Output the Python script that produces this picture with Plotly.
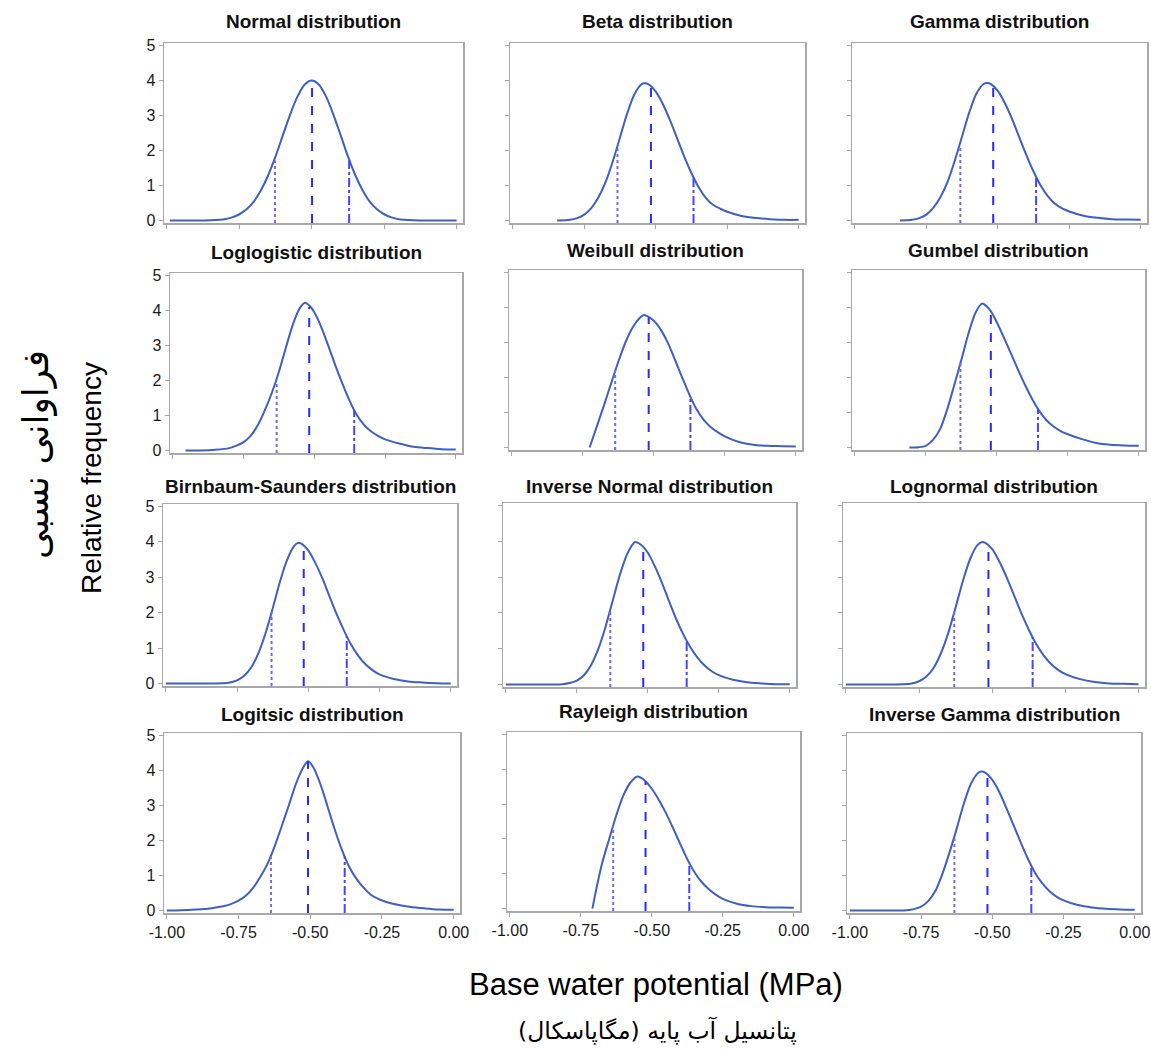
import plotly.graph_objects as go

# ---------------- data ----------------
titles = ["Normal distribution", "Beta distribution", "Gamma distribution",
          "Loglogistic distribution", "Weibull distribution", "Gumbel distribution",
          "Birnbaum-Saunders distribution", "Inverse Normal distribution", "Lognormal distribution",
          "Logitsic distribution", "Rayleigh distribution", "Inverse Gamma distribution"]

x_tick_vals = [-1.0, -0.75, -0.5, -0.25, 0.0]
x_tick_text = ["-1.00", "-0.75", "-0.50", "-0.25", "0.00"]
y_tick_vals = [0, 1, 2, 3, 4, 5]

normal_x = [-0.99, -0.90, -0.85, -0.80, -0.775, -0.75, -0.725, -0.70, -0.675, -0.65, -0.625, -0.60, -0.575, -0.55, -0.525, -0.50,
            -0.475, -0.45, -0.425, -0.40, -0.375, -0.35, -0.325, -0.30, -0.275, -0.25, -0.225, -0.20, -0.15, -0.10, 0.00]
normal_y = [0.00, 0.00, 0.01, 0.04, 0.09, 0.18, 0.32, 0.54, 0.87, 1.30, 1.83, 2.43, 3.02, 3.53, 3.88, 4.00,
            3.88, 3.53, 3.02, 2.43, 1.83, 1.30, 0.87, 0.54, 0.32, 0.18, 0.09, 0.04, 0.01, 0.00, 0.00]
normal_q = [-0.627, -0.499, -0.371]
normal_qh = [1.72, 4.00, 1.72]

beta_x = [-0.845, -0.80, -0.775, -0.75, -0.725, -0.70, -0.675, -0.65, -0.625, -0.60, -0.575, -0.55, -0.54, -0.525, -0.50,
          -0.475, -0.45, -0.425, -0.40, -0.375, -0.35, -0.325, -0.30, -0.275, -0.25, -0.20, -0.15, -0.10, -0.05, 0.00]
beta_y = [0.00, 0.02, 0.07, 0.17, 0.36, 0.67, 1.11, 1.70, 2.38, 3.06, 3.60, 3.89, 3.92, 3.89, 3.68,
          3.32, 2.86, 2.34, 1.82, 1.35, 0.95, 0.65, 0.45, 0.34, 0.25, 0.13, 0.07, 0.04, 0.02, 0.02]
beta_q = [-0.634, -0.517, -0.368]
beta_qh = [2.15, 3.84, 1.24]

gamma_x = [-0.842, -0.80, -0.775, -0.75, -0.725, -0.70, -0.675, -0.65, -0.625, -0.60, -0.575, -0.55, -0.536, -0.525, -0.50,
           -0.475, -0.45, -0.425, -0.40, -0.375, -0.35, -0.325, -0.30, -0.275, -0.25, -0.20, -0.15, -0.10, -0.05, 0.00]
gamma_y = [0.00, 0.02, 0.07, 0.17, 0.37, 0.68, 1.12, 1.72, 2.40, 3.08, 3.62, 3.90, 3.93, 3.90, 3.70,
           3.35, 2.90, 2.38, 1.87, 1.40, 1.00, 0.70, 0.48, 0.35, 0.26, 0.14, 0.08, 0.04, 0.03, 0.02]
gamma_q = [-0.631, -0.516, -0.366]
gamma_qh = [2.12, 3.83, 1.28]

loglog_x = [-0.955, -0.90, -0.85, -0.80, -0.775, -0.75, -0.725, -0.70, -0.675, -0.65, -0.625, -0.60, -0.575, -0.55, -0.533,
            -0.515, -0.50, -0.475, -0.45, -0.425, -0.40, -0.375, -0.35, -0.325, -0.30, -0.275, -0.25, -0.20, -0.15, -0.10, -0.05, 0.00]
loglog_y = [0.00, 0.00, 0.02, 0.07, 0.14, 0.24, 0.42, 0.72, 1.15, 1.65, 2.25, 2.95, 3.62, 4.08, 4.22,
            4.12, 3.95, 3.52, 2.98, 2.42, 1.90, 1.42, 1.02, 0.74, 0.55, 0.42, 0.32, 0.20, 0.11, 0.07, 0.04, 0.03]
loglog_q = [-0.633, -0.518, -0.359]
loglog_qh = [2.00, 4.10, 1.15]

weibull_x = [-0.726, -0.70, -0.675, -0.65, -0.625, -0.60, -0.575, -0.55, -0.537, -0.525, -0.50, -0.475, -0.45, -0.425,
             -0.40, -0.375, -0.35, -0.325, -0.30, -0.275, -0.25, -0.20, -0.15, -0.10, -0.05, 0.00]
weibull_y = [0.00, 0.62, 1.22, 1.84, 2.45, 3.00, 3.42, 3.70, 3.78, 3.76, 3.62, 3.36, 2.98, 2.50,
             2.00, 1.52, 1.10, 0.80, 0.59, 0.44, 0.32, 0.16, 0.08, 0.05, 0.04, 0.03]
weibull_q = [-0.636, -0.518, -0.371]
weibull_qh = [2.21, 3.72, 1.45]

gumbel_x = [-0.808, -0.775, -0.75, -0.725, -0.70, -0.675, -0.65, -0.625, -0.60, -0.575, -0.552, -0.535, -0.52, -0.50,
            -0.475, -0.45, -0.425, -0.40, -0.375, -0.35, -0.325, -0.30, -0.275, -0.25, -0.20, -0.15, -0.10, -0.05, 0.00]
gumbel_y = [0.00, 0.01, 0.05, 0.22, 0.52, 1.08, 1.78, 2.50, 3.25, 3.85, 4.11, 4.03, 3.88, 3.58,
            3.14, 2.68, 2.22, 1.78, 1.38, 1.04, 0.78, 0.60, 0.47, 0.38, 0.24, 0.13, 0.08, 0.06, 0.05]
gumbel_q = [-0.628, -0.521, -0.355]
gumbel_qh = [2.42, 3.87, 1.10]

birnbaum_x = [-1.00, -0.90, -0.80, -0.775, -0.75, -0.725, -0.70, -0.675, -0.65, -0.625, -0.60, -0.575, -0.55, -0.537, -0.525,
              -0.50, -0.475, -0.45, -0.425, -0.40, -0.375, -0.35, -0.325, -0.30, -0.275, -0.25, -0.20, -0.15, -0.10, -0.05, 0.00]
birnbaum_y = [0.00, 0.00, 0.01, 0.03, 0.09, 0.22, 0.46, 0.86, 1.42, 2.12, 2.86, 3.48, 3.88, 3.97, 3.95,
              3.76, 3.40, 2.96, 2.45, 1.95, 1.50, 1.10, 0.79, 0.55, 0.38, 0.26, 0.13, 0.06, 0.03, 0.01, 0.00]
birnbaum_q = [-0.629, -0.516, -0.365]
birnbaum_qh = [2.00, 3.88, 1.33]

invnormal_x = [-1.00, -0.90, -0.80, -0.775, -0.75, -0.725, -0.70, -0.675, -0.65, -0.625, -0.60, -0.575, -0.55, -0.545, -0.525,
               -0.50, -0.475, -0.45, -0.425, -0.40, -0.375, -0.35, -0.325, -0.30, -0.275, -0.25, -0.20, -0.15, -0.10, -0.05, 0.00]
invnormal_y = [0.00, 0.00, 0.01, 0.04, 0.11, 0.26, 0.54, 0.98, 1.58, 2.30, 3.02, 3.60, 3.95, 3.98, 3.91,
               3.68, 3.30, 2.84, 2.32, 1.83, 1.40, 1.04, 0.75, 0.53, 0.37, 0.26, 0.13, 0.06, 0.03, 0.01, 0.01]
invnormal_q = [-0.632, -0.516, -0.363]
invnormal_qh = [2.10, 3.83, 1.22]

lognormal_x = [-1.00, -0.90, -0.80, -0.775, -0.75, -0.725, -0.70, -0.675, -0.65, -0.625, -0.60, -0.575, -0.55, -0.534, -0.525,
               -0.50, -0.475, -0.45, -0.425, -0.40, -0.375, -0.35, -0.325, -0.30, -0.275, -0.25, -0.20, -0.15, -0.10, -0.05, 0.00]
lognormal_y = [0.00, 0.00, 0.01, 0.03, 0.09, 0.22, 0.47, 0.88, 1.45, 2.16, 2.90, 3.52, 3.90, 3.98, 3.96,
               3.78, 3.42, 2.98, 2.48, 1.98, 1.53, 1.13, 0.82, 0.58, 0.41, 0.29, 0.15, 0.07, 0.03, 0.02, 0.01]
lognormal_q = [-0.630, -0.513, -0.362]
lognormal_qh = [2.05, 3.88, 1.32]

logistic_x = [-1.00, -0.95, -0.90, -0.85, -0.80, -0.775, -0.75, -0.725, -0.70, -0.675, -0.65, -0.625, -0.60, -0.575, -0.55, -0.525, -0.508,
              -0.49, -0.465, -0.44, -0.415, -0.39, -0.365, -0.34, -0.315, -0.29, -0.265, -0.24, -0.20, -0.15, -0.10, -0.05, 0.00]
logistic_y = [0.00, 0.01, 0.03, 0.06, 0.13, 0.19, 0.28, 0.42, 0.64, 0.95, 1.32, 1.82, 2.40, 3.00, 3.62, 4.08, 4.26,
              4.10, 3.62, 2.98, 2.32, 1.74, 1.26, 0.92, 0.66, 0.46, 0.34, 0.26, 0.17, 0.10, 0.06, 0.03, 0.02]
logistic_q = [-0.637, -0.508, -0.380]
logistic_qh = [1.52, 4.26, 1.55]

rayleigh_x = [-0.709, -0.70, -0.675, -0.65, -0.625, -0.60, -0.575, -0.551, -0.525, -0.50, -0.475, -0.45, -0.425,
              -0.40, -0.375, -0.35, -0.325, -0.30, -0.275, -0.25, -0.20, -0.15, -0.10, -0.05, 0.00]
rayleigh_y = [0.00, 0.38, 1.30, 2.00, 2.68, 3.25, 3.62, 3.79, 3.68, 3.44, 3.12, 2.74, 2.31,
              1.86, 1.42, 1.05, 0.77, 0.56, 0.40, 0.28, 0.14, 0.07, 0.04, 0.03, 0.02]
rayleigh_q = [-0.636, -0.522, -0.368]
rayleigh_qh = [2.38, 3.65, 1.32]

invgamma_x = [-1.00, -0.90, -0.80, -0.775, -0.75, -0.725, -0.70, -0.675, -0.65, -0.625, -0.60, -0.575, -0.55, -0.538, -0.525,
              -0.50, -0.475, -0.45, -0.425, -0.40, -0.375, -0.35, -0.325, -0.30, -0.275, -0.25, -0.20, -0.15, -0.10, -0.05, 0.00]
invgamma_y = [0.00, 0.00, 0.01, 0.04, 0.11, 0.27, 0.56, 1.05, 1.66, 2.34, 3.05, 3.62, 3.93, 3.97, 3.94,
              3.73, 3.38, 2.92, 2.43, 1.94, 1.48, 1.08, 0.78, 0.56, 0.40, 0.29, 0.16, 0.09, 0.05, 0.03, 0.02]
invgamma_q = [-0.633, -0.517, -0.363]
invgamma_qh = [2.10, 3.90, 1.28]

series = [
    (normal_x, normal_y, normal_q, normal_qh),
    (beta_x, beta_y, beta_q, beta_qh),
    (gamma_x, gamma_y, gamma_q, gamma_qh),
    (loglog_x, loglog_y, loglog_q, loglog_qh),
    (weibull_x, weibull_y, weibull_q, weibull_qh),
    (gumbel_x, gumbel_y, gumbel_q, gumbel_qh),
    (birnbaum_x, birnbaum_y, birnbaum_q, birnbaum_qh),
    (invnormal_x, invnormal_y, invnormal_q, invnormal_qh),
    (lognormal_x, lognormal_y, lognormal_q, lognormal_qh),
    (logistic_x, logistic_y, logistic_q, logistic_qh),
    (rayleigh_x, rayleigh_y, rayleigh_q, rayleigh_qh),
    (invgamma_x, invgamma_y, invgamma_q, invgamma_qh),
]

# ---------------- layout geometry (pixels) ----------------
W, H = 1151, 1050
# (left, right, top, bottom) of each plot frame
frames = [
    (164, 463, 43, 223), (510, 805, 43, 223), (852, 1147, 43, 223),
    (170, 462, 273, 453), (509, 802, 270, 450), (852, 1145, 270, 450),
    (163, 457, 504, 686), (503, 796, 503, 687), (843, 1145, 503, 687),
    (164, 460, 733, 913), (507, 800, 732, 911), (847, 1141, 733, 913),
]
title_y = [22, 22, 22, 252, 250, 250, 486, 486, 486, 714, 711, 714]

X_RANGE = [-1.01, 0.022]
Y_RANGE = [-0.07, 5.07]

CURVE = "#3e60c2"
FRAME = "#a8a8a8"
FONT = "Liberation Sans, Arial, sans-serif"
q_styles = [("dot", "#6a6aff"), ("dash", "#2a2aff"), ("dashdot", "#4646ff")]

fig = go.Figure()
layout = dict(template="none", width=W, height=H, autosize=False,
              margin=dict(l=0, r=0, t=0, b=0, pad=0),
              plot_bgcolor="white", paper_bgcolor="white", showlegend=False)
annotations = []

for i, ((xs, ys, qs, qhs), (l, r, t, b)) in enumerate(zip(series, frames)):
    k = i + 1
    xa, ya = f"x{k}", f"y{k}"
    row, col = divmod(i, 3)
    fig.add_trace(go.Scatter(x=xs, y=ys, mode="lines", xaxis=xa, yaxis=ya,
                             line=dict(color=CURVE, width=2, shape="spline", smoothing=0.8),
                             hoverinfo="skip"))
    for q, h, (dash, colr) in zip(qs, qhs, q_styles):
        fig.add_trace(go.Scatter(x=[q, q], y=[Y_RANGE[0], h], mode="lines", xaxis=xa, yaxis=ya,
                                 line=dict(color=colr, width=2, dash=dash), hoverinfo="skip"))
    layout[f"xaxis{k}"] = dict(
        domain=[l / W, r / W], range=X_RANGE, anchor=ya, automargin=False,
        showline=True, mirror=True, linecolor=FRAME, linewidth=1.5,
        ticks="outside", ticklen=4, tickcolor=FRAME, tickwidth=1,
        tickvals=x_tick_vals, ticktext=x_tick_text,
        showticklabels=(row == 3), showgrid=False, zeroline=False,
        tickfont=dict(family=FONT, size=16, color="#1a1a1a"))
    layout[f"yaxis{k}"] = dict(
        domain=[1 - b / H, 1 - t / H], range=Y_RANGE, anchor=xa, automargin=False,
        showline=True, mirror=True, linecolor=FRAME, linewidth=1.5,
        ticks="outside", ticklen=4, tickcolor=FRAME, tickwidth=1,
        tickvals=y_tick_vals, showticklabels=(col == 0),
        showgrid=False, zeroline=False,
        tickfont=dict(family=FONT, size=16, color="#1a1a1a"))
    annotations.append(dict(text=f"<b>{titles[i]}</b>", xref="paper", yref="paper",
                            x=(l + r) / 2 / W, y=1 - title_y[i] / H, showarrow=False,
                            xanchor="center", yanchor="middle",
                            font=dict(family=FONT, size=19, color="#111111")))

annotations += [
    dict(text="Relative frequency", xref="paper", yref="paper", x=91 / W, y=1 - 478 / H,
         textangle=-90, showarrow=False, xanchor="center", yanchor="middle",
         font=dict(family=FONT, size=28, color="#000000")),
    dict(text="فراوانی نسبی", xref="paper", yref="paper", x=36 / W, y=1 - 455 / H,
         textangle=-90, showarrow=False, xanchor="center", yanchor="middle",
         font=dict(family="DejaVu Sans, Noto Sans", size=36, color="#000000")),
    dict(text="Base water potential (MPa)", xref="paper", yref="paper", x=656 / W, y=1 - 984 / H,
         showarrow=False, xanchor="center", yanchor="middle",
         font=dict(family=FONT, size=31, color="#000000")),
    dict(text="پتانسیل آب پایه (مگاپاسکال)", xref="paper", yref="paper", x=657 / W, y=1 - 1030 / H,
         showarrow=False, xanchor="center", yanchor="middle",
         font=dict(family="DejaVu Sans, Noto Sans", size=23.5, color="#000000")),
]
layout["annotations"] = annotations
fig.update_layout(**layout)
fig.write_html("out.html",
               config={"displayModeBar": False, "staticPlot": True},
               post_script="document.body.style.margin='0';document.body.style.padding='0';"
                           "document.documentElement.style.overflow='hidden';")
